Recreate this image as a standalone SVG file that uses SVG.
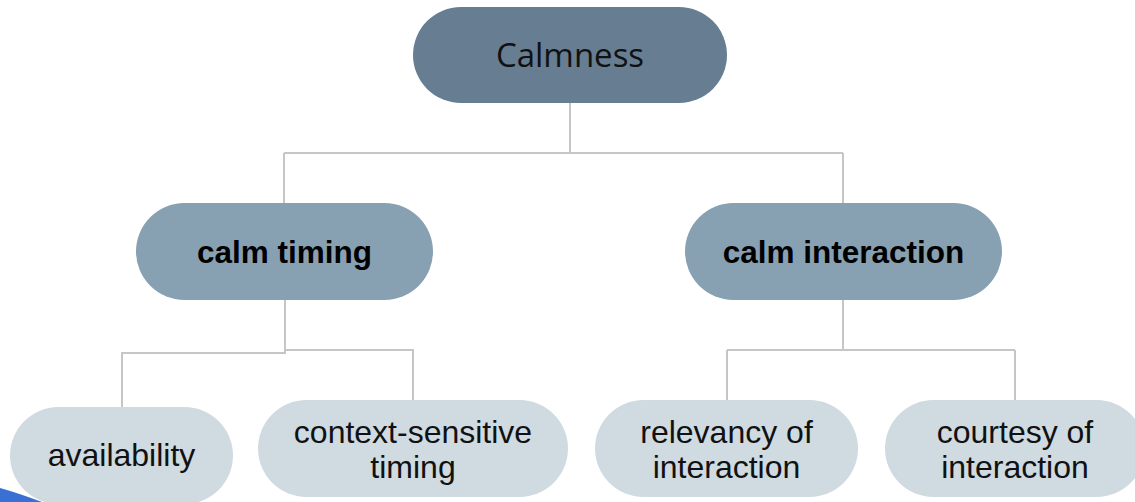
<svg xmlns="http://www.w3.org/2000/svg" width="1135" height="502" viewBox="0 0 1135 502">
<style>
.c{fill:none;stroke:#c6c6c6;stroke-width:2}
.top{fill:#667d92}
.mid{fill:#87a0b2}
.low{fill:#cfdae1}
.t1{font-family:"Open Sans","Noto Sans",sans-serif;font-size:33px;fill:#111;text-anchor:middle}
.t2{font-family:"Liberation Sans",Arial,sans-serif;font-size:31.5px;font-weight:bold;fill:#000;text-anchor:middle}
.t3{font-family:"Liberation Sans",Arial,sans-serif;font-size:32px;fill:#111;text-anchor:middle}
</style>
<rect width="1135" height="502" fill="#ffffff"/>
<path d="M0,488 Q18,493 42,502 L0,502 Z" fill="#3a6fd3"/>
<g id="connectors">
<path class="c" d="M570,103 V153 M284,153 H843 M284,153 V203 M843,153 V203"/>
<path class="c" d="M285,300 V353 H122 V407 M285,350 H413 V400"/>
<path class="c" d="M843,300 V350 M727,350 H1015 M727,350 V400 M1015,350 V400"/>
</g>
<g id="calmness">
<rect class="top" x="413" y="7" width="314" height="96" rx="48"/>
<text class="t1" x="570" y="67">Calmness</text>
</g>
<g id="calm-timing">
<rect class="mid" x="136" y="203" width="297" height="97" rx="48.5"/>
<text class="t2" x="284.5" y="263">calm timing</text>
</g>
<g id="calm-interaction">
<rect class="mid" x="685" y="203" width="317" height="97" rx="48.5"/>
<text class="t2" x="843.5" y="263">calm interaction</text>
</g>
<g id="availability">
<rect class="low" x="10" y="407" width="223" height="97" rx="48.5"/>
<text class="t3" x="121.5" y="466">availability</text>
</g>
<g id="context-sensitive">
<rect class="low" x="258" y="400" width="310" height="97" rx="48.5"/>
<text class="t3" x="413" y="443">context-sensitive</text>
<text class="t3" x="413" y="478">timing</text>
</g>
<g id="relevancy">
<rect class="low" x="595" y="400" width="263" height="97" rx="48.5"/>
<text class="t3" x="726.5" y="443">relevancy of</text>
<text class="t3" x="726.5" y="478">interaction</text>
</g>
<g id="courtesy">
<rect class="low" x="885" y="400" width="260" height="97" rx="48.5"/>
<text class="t3" x="1015" y="443">courtesy of</text>
<text class="t3" x="1015" y="478">interaction</text>
</g>
</svg>
